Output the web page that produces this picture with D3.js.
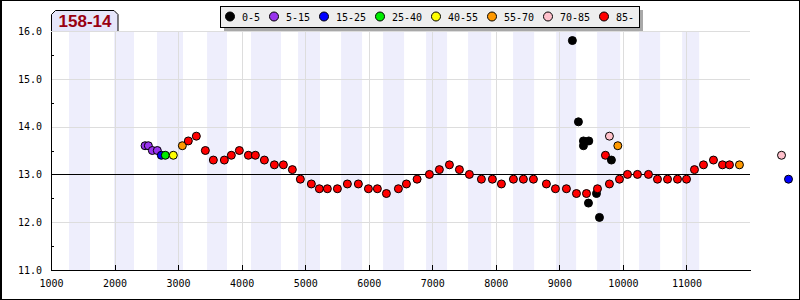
<!DOCTYPE html>
<html>
<head>
<meta charset="utf-8">
<script src="https://cdn.jsdelivr.net/npm/d3@7"></script>
<style>
  body { margin: 0; background: #fff; }
  svg { display: block; }
</style>
</head>
<body>
<div id="chart"></div>
<script>
const title = "158-14";
const categories = ["0-5", "5-15", "15-25", "25-40", "40-55", "55-70", "70-85", "85-"];
const xTicks = [1000, 2000, 3000, 4000, 5000, 6000, 7000, 8000, 9000, 10000, 11000];
const yTicks = [11, 12, 13, 14, 15, 16];
const refLine = 13.0;

// shaded bands [from, to]
const bands = [[1283, 1614], [1992, 2306], [2669, 3078], [3456, 3770], [4148, 4620],
  [4888, 5234], [5565, 5895], [6226, 6556], [6903, 7233], [7564, 7926], [8272, 8603],
  [8949, 9264], [9594, 9956], [10255, 10586], [10932, 11200]];

// points per category: [x, value]
const cat0_5 = [[9205, 15.8], [9300, 14.1], [9379, 13.7], [9463, 13.7], [9379, 13.6],
  [9458, 12.4], [9584, 12.6], [9631, 12.1], [9819, 13.3]];
const cat5_15 = [[2480, 13.6], [2532, 13.6], [2595, 13.5], [2673, 13.5]];
const cat15_25 = [[2736, 13.4], [12606, 12.9]];
const cat25_40 = [[2799, 13.4]];
const cat40_55 = [[2925, 13.4]];
const cat55_70 = [[3067, 13.6], [9920, 13.6], [11834, 13.2]];
const cat70_85 = [[9788, 13.8], [12496, 13.4]];
const cat85 = [[3161, 13.7], [3287, 13.8], [3429, 13.5], [3555, 13.3], [3728, 13.3],
  [3838, 13.4], [3964, 13.5], [4106, 13.4], [4216, 13.4], [4358, 13.3], [4515, 13.2],
  [4657, 13.2], [4798, 13.1], [4924, 12.9], [5097, 12.8], [5223, 12.7], [5349, 12.7],
  [5507, 12.7], [5664, 12.8], [5837, 12.8], [5995, 12.7], [6136, 12.7], [6278, 12.6],
  [6467, 12.7], [6593, 12.8], [6761, 12.9], [6955, 13.0], [7112, 13.1], [7270, 13.2],
  [7427, 13.1], [7584, 13.0], [7773, 12.9], [7946, 12.9], [8088, 12.8], [8277, 12.9],
  [8434, 12.9], [8592, 12.9], [8796, 12.8], [8938, 12.7], [9111, 12.7], [9269, 12.6],
  [9427, 12.6], [9600, 12.7], [9725, 13.4], [9788, 12.8], [9946, 12.9], [10072, 13.0],
  [10229, 13.0], [10402, 13.0], [10544, 12.9], [10702, 12.9], [10859, 12.9], [11001, 12.9],
  [11126, 13.1], [11268, 13.2], [11425, 13.3], [11567, 13.2], [11677, 13.2]];

const series = [cat0_5, cat5_15, cat15_25, cat25_40, cat40_55, cat55_70, cat70_85, cat85];
const colors = ["#000000", "#9933ee", "#0000ff", "#00ee00", "#ffff00", "#ff9900", "#ffc0cb", "#ff0000"];

const width = 800, height = 300;
const margin = { top: 31, right: 50, bottom: 30, left: 51 };

const svg = d3.select("#chart").append("svg")
  .attr("width", width)
  .attr("height", height);

const x = d3.scaleLinear().domain([1000, 12000]).range([margin.left, width - margin.right]);
const y = d3.scaleLinear().domain([11, 16]).range([height - margin.bottom, margin.top]);

const mono = "'DejaVu Sans Mono', monospace";

// bands
svg.append("g").selectAll("rect")
  .data(bands)
  .enter().append("rect")
  .attr("x", d => x(d[0]))
  .attr("y", y(16))
  .attr("width", d => x(d[1]) - x(d[0]))
  .attr("height", y(11) - y(16))
  .attr("fill", "#eeeefc");

// grid
const grid = svg.append("g").attr("stroke", "#dddddd").attr("shape-rendering", "crispEdges");
grid.selectAll("line.v")
  .data(xTicks.slice(1))
  .enter().append("line")
  .attr("x1", d => Math.round(x(d)) + 0.5).attr("x2", d => Math.round(x(d)) + 0.5)
  .attr("y1", y(16)).attr("y2", y(11));
grid.selectAll("line.h")
  .data(yTicks.slice(1))
  .enter().append("line")
  .attr("x1", x(1000)).attr("x2", x(12000))
  .attr("y1", d => Math.round(y(d)) + 0.5).attr("y2", d => Math.round(y(d)) + 0.5);

// reference line
svg.append("line")
  .attr("x1", x(1000)).attr("x2", x(12000))
  .attr("y1", Math.round(y(refLine)) + 0.5).attr("y2", Math.round(y(refLine)) + 0.5)
  .attr("stroke", "#000")
  .attr("shape-rendering", "crispEdges");

// axes
const xAxis = svg.append("g")
  .attr("transform", `translate(0,${y(11)})`)
  .call(d3.axisBottom(x).tickValues(xTicks).tickFormat(d3.format("d"))
    .tickSizeInner(-5).tickSizeOuter(0).tickPadding(10));
const yAxis = svg.append("g")
  .attr("transform", `translate(${x(1000)},0)`)
  .call(d3.axisLeft(y).tickValues(yTicks).tickFormat(d3.format(".1f"))
    .tickSizeInner(0).tickSizeOuter(0).tickPadding(9));
[xAxis, yAxis].forEach(a => {
  a.selectAll("text").style("font-family", mono).style("font-size", "10px").attr("fill", "#000");
  a.selectAll("path,line").attr("stroke", "#000").attr("shape-rendering", "crispEdges");
});

// minor ticks on y
svg.append("g").selectAll("line")
  .data(yTicks.slice(0, -1).map(d => d + 0.5))
  .enter().append("line")
  .attr("x1", x(1000)).attr("x2", x(1000) + 3)
  .attr("y1", d => Math.round(y(d)) + 0.5).attr("y2", d => Math.round(y(d)) + 0.5)
  .attr("stroke", "#000");

// points, drawn in distance order
const points = [];
series.forEach((s, i) => s.forEach(p => points.push({ x: p[0], v: p[1], c: i })));
points.sort((a, b) => a.x - b.x);
svg.append("g").selectAll("circle")
  .data(points)
  .enter().append("circle")
  .attr("cx", d => x(d.x))
  .attr("cy", d => y(d.v))
  .attr("r", 4)
  .attr("fill", d => colors[d.c])
  .attr("stroke", "#000")
  .attr("stroke-width", 1);

// title tab
const tx0 = 51, tx1 = 118, ty0 = 10.5, ty1 = 31, ch = 4;
svg.append("path")
  .attr("d", `M${tx0 + 0.5},${ty1}V${ty0 + ch}L${tx0 + 0.5 + ch},${ty0}H${tx1 - ch}L${tx1},${ty0 + ch}V${ty1}`)
  .attr("fill", "#e6e6fa")
  .attr("stroke", "#000");
svg.append("text")
  .attr("x", (tx0 + tx1) / 2 + 0.5)
  .attr("y", 27)
  .attr("text-anchor", "middle")
  .style("font-family", "'Liberation Sans', Arial, sans-serif")
  .style("font-weight", "bold")
  .style("font-size", "17px")
  .attr("fill", "#990011")
  .text(title);

// legend
const lg = svg.append("g");
lg.append("rect").attr("x", 224).attr("y", 10).attr("width", 419).attr("height", 21).attr("fill", "#a8a8a8");
lg.append("rect").attr("x", 220.5).attr("y", 6.5).attr("width", 419).attr("height", 21)
  .attr("fill", "#eeeeee").attr("stroke", "#000");
let cx = 230;
categories.forEach((c, i) => {
  lg.append("circle").attr("cx", cx).attr("cy", 16.5).attr("r", 4.5)
    .attr("fill", colors[i]).attr("stroke", "#000");
  lg.append("text").attr("x", cx + 12).attr("y", 20.5)
    .style("font-family", mono).style("font-size", "10px")
    .text(c);
  cx += 26 + 6 * c.length;
});

// outer border
svg.append("rect").attr("x", 0.5).attr("y", 0.5).attr("width", 799).attr("height", 299)
  .attr("fill", "none").attr("stroke", "#000");
svg.append("line").attr("x1", 1.5).attr("x2", 1.5).attr("y1", 0).attr("y2", 300).attr("stroke", "#000");
</script>
</body>
</html>
